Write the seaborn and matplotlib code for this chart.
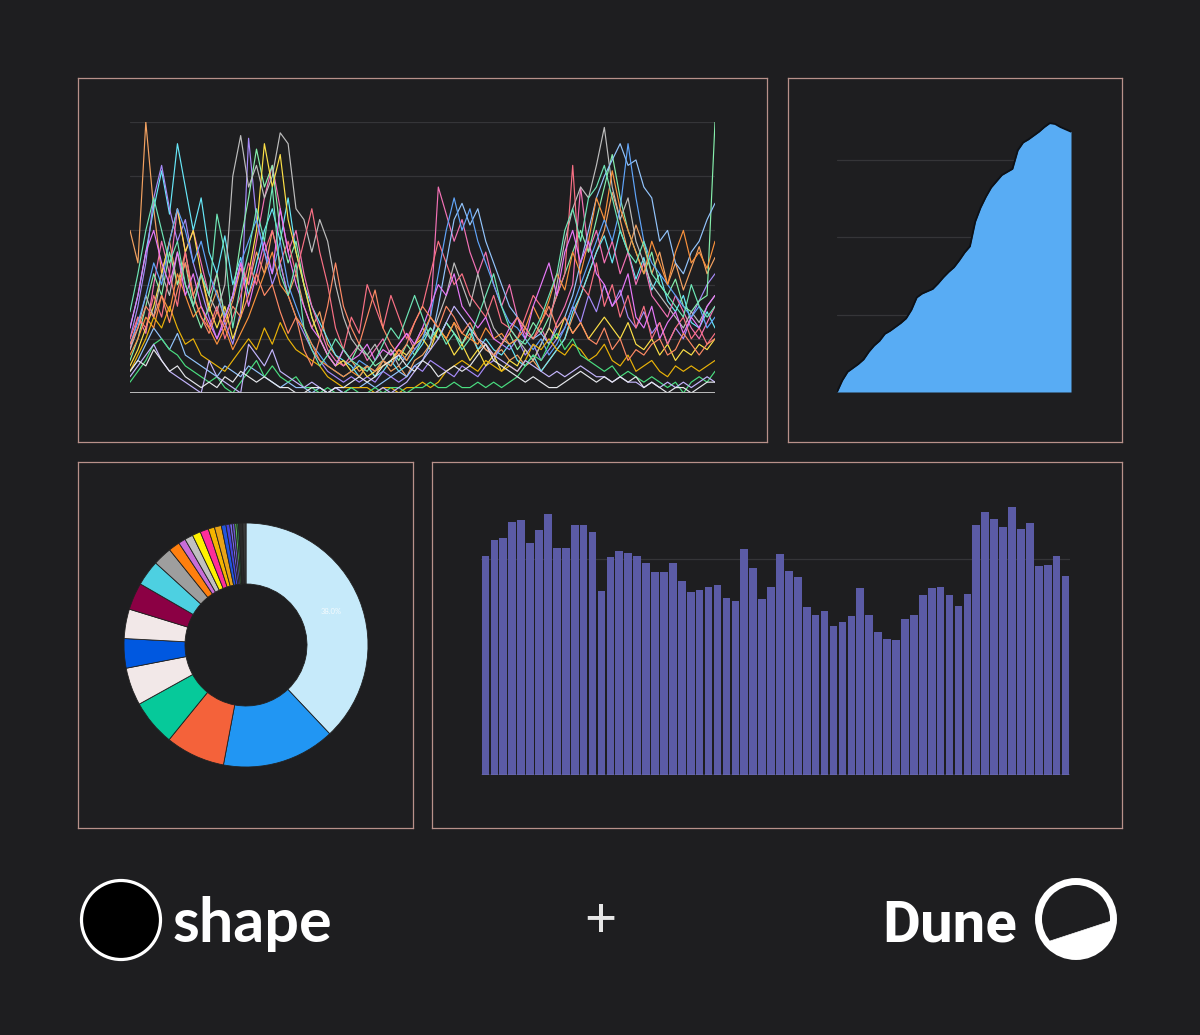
import numpy as np
import pandas as pd
import seaborn as sns
import matplotlib
matplotlib.use("Agg")
from matplotlib import pyplot as plt
from matplotlib.patches import Circle, Polygon

W, H = 1200, 1035
BG = "#1e1e20"
BORDER = "#b8918a"
GRID = "#353538"

# ---------- line chart (top left): one list per series, values 0..5, 75 steps ----------
orange = [3.0, 2.4, 5.0, 3.4, 2.2, 2.8, 2.0, 2.6, 1.8, 2.2, 1.5, 1.9, 1.3, 1.7, 2.3,
          2.0, 2.6, 2.2, 3.0, 2.4, 1.8, 2.2, 1.6, 1.2, 1.5, 0.9, 0.7, 0.5, 0.6, 0.4,
          0.5, 0.3, 0.6, 0.4, 0.5, 0.3, 0.6, 0.7, 0.9, 1.2, 1.0, 1.3, 0.9, 1.1, 0.8,
          0.9, 0.7, 0.8, 0.6, 0.7, 0.5, 0.6, 0.4, 0.6, 0.8, 1.0, 1.4, 1.8, 2.2, 2.6,
          3.0, 3.7, 3.2, 2.6, 3.1, 2.7, 2.2, 2.6, 2.0, 2.4, 1.9, 2.3, 2.7, 2.2, 2.5]
cyan = [1.2, 1.8, 2.6, 3.4, 4.1, 3.3, 4.6, 3.8, 3.0, 3.6, 2.6, 2.2, 2.9, 2.0, 2.5,
        1.8, 2.4, 3.0, 3.4, 2.8, 3.6, 2.6, 2.0, 1.6, 1.3, 1.0, 0.7, 0.6, 0.5, 0.3,
        0.5, 0.3, 0.4, 0.6, 0.4, 0.5, 0.7, 0.9, 1.2, 1.0, 1.3, 1.1, 0.9, 1.2, 0.8,
        1.0, 0.8, 0.7, 0.9, 0.6, 0.5, 0.7, 0.4, 0.6, 0.8, 1.0, 1.5, 1.8, 2.2, 2.6,
        2.9, 2.4, 3.0, 2.6, 2.1, 2.5, 1.9, 2.2, 1.7, 1.5, 1.8, 1.3, 1.2, 1.5, 1.2]
purple = [1.0, 1.6, 2.4, 3.6, 4.2, 3.4, 2.8, 3.2, 2.4, 1.9, 1.4, 1.0, 1.3, 0.9, 1.5,
          4.7, 3.2, 2.6, 2.0, 2.4, 1.8, 1.4, 1.1, 0.8, 0.6, 0.4, 0.3, 0.2, 0.3, 0.2,
          0.3, 0.2, 0.4, 0.3, 0.2, 0.3, 0.5, 0.4, 0.6, 0.5, 0.4, 0.3, 0.5, 0.4, 0.3,
          0.5, 0.6, 0.9, 0.8, 1.0, 0.7, 0.9, 0.6, 0.8, 1.0, 1.2, 1.6, 1.3, 1.8, 1.5,
          2.0, 1.6, 1.9, 1.4, 1.2, 1.5, 1.1, 1.3, 0.9, 1.2, 1.0, 1.4, 1.7, 2.0, 2.2]
pink = [0.8, 1.4, 1.1, 2.0, 2.8, 2.2, 3.4, 2.6, 3.0, 2.4, 1.8, 2.2, 1.4, 1.8, 2.4,
        2.0, 2.8, 3.6, 4.2, 3.4, 2.6, 3.0, 2.2, 1.6, 1.2, 0.8, 0.6, 0.5, 0.7, 0.9,
        0.6, 0.8, 1.0, 0.7, 0.9, 1.1, 0.8, 1.0, 1.4, 3.8, 3.3, 2.8, 3.2, 2.6, 2.2,
        2.6, 2.0, 1.6, 2.0, 1.4, 1.1, 1.0, 1.2, 0.9, 1.3, 1.6, 2.0, 3.8, 2.6, 3.0,
        2.4, 2.8, 2.2, 2.6, 2.0, 2.4, 1.8, 1.6, 1.4, 1.8, 1.5, 1.2, 1.0, 1.3, 1.6]
green = [0.6, 1.0, 1.6, 2.2, 1.8, 2.6, 2.0, 2.4, 1.6, 1.2, 1.6, 2.2, 1.4, 1.8, 2.8,
         3.6, 4.5, 3.8, 4.2, 3.0, 2.4, 2.8, 2.0, 1.4, 1.0, 0.7, 0.5, 0.8, 0.6, 0.9,
         0.7, 0.5, 0.6, 0.8, 0.6, 0.9, 0.7, 1.0, 1.2, 1.0, 1.3, 1.1, 0.9, 1.2, 1.0,
         0.8, 0.7, 0.9, 1.1, 0.8, 1.0, 1.3, 1.1, 1.4, 1.8, 2.2, 2.6, 3.0, 2.6, 3.2,
         3.8, 4.4, 3.6, 3.0, 2.6, 2.2, 2.6, 2.0, 1.8, 2.1, 1.6, 1.5, 1.7, 1.8, 5.0]
yellow = [0.5, 0.8, 1.2, 1.6, 2.2, 2.8, 3.4, 2.6, 3.0, 2.2, 1.6, 1.2, 1.6, 1.0, 1.4,
          2.2, 3.0, 4.6, 3.8, 4.4, 3.2, 2.6, 2.0, 1.4, 1.0, 0.7, 0.5, 0.6, 0.4, 0.5,
          0.3, 0.4, 0.5, 0.6, 0.8, 0.7, 0.9, 1.0, 0.8, 1.2, 1.0, 0.7, 0.9, 0.6, 0.8,
          0.5, 0.7, 0.4, 0.6, 0.5, 0.8, 0.6, 0.9, 1.2, 1.0, 1.4, 1.1, 1.3, 1.0, 1.2,
          1.4, 1.2, 1.0, 1.3, 0.9, 0.8, 1.0, 0.7, 0.9, 0.6, 0.8, 0.7, 0.9, 0.8, 1.0]
gray = [0.8, 1.2, 1.8, 1.4, 2.2, 1.8, 2.6, 2.0, 1.6, 2.2, 1.8, 1.5, 2.0, 4.0, 4.75,
        3.8, 4.2, 3.6, 4.0, 4.8, 4.6, 3.4, 3.2, 2.6, 3.2, 2.8, 2.0, 1.4, 1.0, 0.8,
        0.7, 0.9, 0.6, 0.8, 0.5, 0.7, 0.9, 1.2, 1.0, 1.4, 1.8, 2.4, 2.0, 1.6, 2.2,
        1.6, 1.2, 1.0, 0.9, 1.0, 0.8, 0.6, 0.9, 1.2, 2.0, 2.8, 3.4, 3.8, 3.6, 4.2,
        4.9, 3.8, 3.2, 3.6, 2.8, 2.4, 2.0, 1.8, 1.6, 1.4, 1.2, 1.5, 1.3, 1.6, 1.8]
salmon = [1.0, 1.4, 1.2, 1.8, 1.4, 2.2, 1.6, 2.6, 1.8, 1.4, 1.2, 1.6, 1.0, 1.4, 1.8,
          2.4, 2.0, 2.6, 3.0, 2.4, 2.8, 2.2, 2.8, 3.4, 2.6, 2.0, 1.2, 0.8, 1.4, 1.1,
          2.0, 1.6, 1.2, 1.8, 1.4, 1.0, 1.3, 1.6, 2.2, 2.8, 2.4, 2.0, 2.2, 1.8, 1.6,
          1.4, 1.8, 1.3, 1.2, 1.0, 1.4, 1.8, 1.6, 1.4, 1.8, 2.2, 4.2, 2.0, 1.8, 2.4,
          1.6, 2.0, 1.4, 1.8, 1.2, 1.6, 1.0, 1.3, 0.9, 1.2, 1.4, 1.0, 1.2, 0.9, 1.1]
light_blue = [0.4, 0.6, 0.9, 1.2, 1.0, 0.8, 1.1, 0.7, 0.6, 0.5, 0.4, 0.3, 0.5, 0.4, 0.3,
              0.5, 0.4, 0.3, 0.2, 0.1, 0.2, 0.1, 0.1, 0.0, 0.1, 0.0, 0.1, 0.0, 0.1, 0.1,
              0.2, 0.1, 0.2, 0.3, 0.4, 0.3, 0.5, 0.6, 0.9, 1.6, 2.4, 3.2, 3.5, 3.1, 3.4,
              2.8, 2.4, 2.0, 1.6, 1.4, 1.2, 1.0, 1.1, 0.9, 1.2, 1.4, 1.8, 2.4, 3.0, 3.6,
              4.0, 4.3, 4.6, 4.2, 4.3, 3.8, 3.6, 2.8, 3.0, 2.4, 2.2, 2.6, 2.8, 3.2, 3.5]
blue = [0.9, 1.3, 1.8, 2.4, 2.0, 2.8, 3.4, 3.0, 2.4, 2.8, 2.2, 1.8, 1.4, 1.8, 2.4,
        2.8, 3.2, 2.6, 2.2, 2.8, 2.0, 1.6, 1.2, 0.9, 0.7, 0.5, 0.4, 0.3, 0.4, 0.6,
        0.5, 0.4, 0.6, 0.5, 0.7, 0.6, 0.8, 1.0, 1.4, 2.2, 3.0, 3.6, 3.0, 3.4, 2.8,
        2.4, 2.0, 1.6, 1.3, 1.2, 1.0, 0.8, 1.0, 0.7, 0.9, 1.2, 1.6, 2.0, 2.4, 2.8,
        3.2, 2.8, 3.4, 4.6, 3.6, 2.8, 2.4, 2.2, 2.0, 1.8, 1.6, 1.4, 1.6, 1.2, 1.4]
amber = [0.7, 1.0, 1.4, 1.2, 1.8, 1.5, 2.2, 1.8, 1.4, 1.6, 1.2, 0.9, 1.2, 0.8, 1.1,
         1.4, 1.8, 2.2, 2.6, 2.0, 1.8, 1.4, 1.2, 0.9, 0.6, 0.5, 0.4, 0.3, 0.4, 0.3,
         0.5, 0.4, 0.6, 0.5, 0.8, 0.6, 0.9, 1.1, 1.4, 1.2, 1.0, 1.3, 1.1, 1.0, 0.9,
         1.2, 1.0, 1.1, 0.9, 1.0, 1.2, 1.6, 1.3, 1.7, 2.2, 1.9, 2.6, 2.2, 2.8, 3.6,
         3.2, 4.1, 3.4, 3.0, 2.6, 2.2, 2.8, 2.4, 2.0, 2.6, 3.0, 2.4, 2.6, 2.3, 2.8]
gold = [0.4, 0.7, 1.0, 1.4, 1.2, 1.6, 1.2, 0.9, 1.0, 0.7, 0.6, 0.5, 0.4, 0.6, 0.8,
        1.0, 0.8, 1.2, 0.9, 1.3, 1.0, 0.8, 0.7, 0.6, 0.5, 0.3, 0.2, 0.1, 0.1, 0.1,
        0.1, 0.0, 0.1, 0.1, 0.0, 0.1, 0.1, 0.2, 0.1, 0.2, 0.4, 0.5, 0.6, 0.5, 0.4,
        0.6, 0.5, 0.4, 0.5, 0.4, 0.6, 0.9, 0.8, 1.0, 0.8, 0.7, 0.9, 0.8, 0.6, 0.7,
        0.9, 0.6, 0.5, 0.7, 0.4, 0.5, 0.6, 0.4, 0.3, 0.5, 0.4, 0.5, 0.4, 0.5, 0.6]
lime = [0.2, 0.4, 0.6, 0.9, 1.0, 0.8, 0.7, 0.5, 0.4, 0.3, 0.2, 0.3, 0.1, 0.0, 0.2,
        0.4, 0.6, 0.3, 0.5, 0.3, 0.2, 0.3, 0.1, 0.1, 0.0, 0.1, 0.0, 0.0, 0.1, 0.0,
        0.0, 0.1, 0.0, 0.1, 0.1, 0.0, 0.1, 0.1, 0.2, 0.1, 0.1, 0.2, 0.1, 0.1, 0.2,
        0.1, 0.2, 0.1, 0.2, 0.3, 0.5, 0.7, 0.6, 0.9, 1.1, 0.8, 1.0, 0.7, 0.6, 0.5,
        0.4, 0.5, 0.3, 0.4, 0.3, 0.2, 0.3, 0.2, 0.1, 0.2, 0.0, 0.2, 0.3, 0.2, 0.4]
lavender = [0.3, 0.5, 0.7, 0.9, 0.6, 0.4, 0.3, 0.2, 0.1, 0.0, 0.6, 0.3, 0.2, 0.1, 0.0,
            0.9, 0.7, 0.5, 0.8, 0.4, 0.3, 0.2, 0.1, 0.2, 0.1, 0.0, 0.1, 0.0, 0.0, 0.0,
            0.0, 0.0, 0.1, 0.0, 0.1, 0.2, 0.4, 0.6, 0.8, 1.0, 1.3, 1.6, 1.4, 1.2, 1.0,
            0.9, 0.7, 0.6, 0.5, 0.4, 0.6, 0.5, 0.4, 0.3, 0.4, 0.3, 0.4, 0.5, 0.4, 0.3,
            0.3, 0.2, 0.3, 0.2, 0.2, 0.1, 0.2, 0.1, 0.2, 0.1, 0.2, 0.1, 0.2, 0.3, 0.2]
magenta = [1.2, 1.8, 2.6, 3.0, 2.4, 2.0, 2.6, 1.8, 2.2, 1.6, 1.3, 1.0, 1.4, 1.8, 2.4,
           1.6, 2.2, 2.8, 2.2, 3.4, 2.6, 2.0, 1.6, 1.2, 1.0, 0.7, 0.5, 0.8, 0.6, 0.7,
           0.9, 0.6, 0.8, 0.7, 0.9, 1.1, 0.9, 1.2, 1.6, 2.0, 1.8, 2.2, 1.6, 1.4, 1.2,
           1.4, 1.0, 0.9, 1.2, 1.4, 1.0, 1.6, 2.0, 2.4, 1.8, 2.6, 3.0, 2.4, 2.8, 2.2,
           2.0, 1.6, 1.8, 2.2, 1.4, 1.2, 1.6, 1.0, 1.3, 1.5, 1.1, 1.4, 1.2, 1.6, 1.8]
peach = [0.9, 1.2, 1.6, 1.4, 1.8, 1.3, 1.9, 2.4, 1.8, 1.4, 1.1, 1.5, 1.2, 1.6, 1.4,
         1.8, 2.2, 1.8, 2.0, 1.5, 1.1, 1.4, 0.8, 0.5, 1.0, 1.6, 2.4, 1.6, 1.2, 0.9,
         1.4, 1.9, 1.2, 0.9, 0.7, 0.9, 1.3, 1.6, 1.4, 1.2, 1.6, 1.4, 1.1, 1.3, 1.0,
         0.8, 0.7, 0.9, 1.1, 1.4, 1.2, 1.0, 1.3, 1.6, 1.2, 1.4, 1.1, 1.3, 1.0, 0.9,
         1.2, 0.8, 1.0, 0.6, 0.8, 0.7, 0.9, 1.0, 0.7, 0.8, 1.1, 0.9, 0.7, 0.9, 1.0]
silver = [0.4, 0.6, 0.5, 0.8, 0.6, 0.4, 0.5, 0.3, 0.2, 0.1, 0.2, 0.1, 0.3, 0.2, 0.4,
          0.3, 0.2, 0.3, 0.2, 0.1, 0.1, 0.0, 0.0, 0.1, 0.1, 0.0, 0.1, 0.1, 0.2, 0.3,
          0.2, 0.3, 0.5, 0.6, 0.7, 0.5, 0.4, 0.6, 0.5, 0.3, 0.4, 0.5, 0.4, 0.5, 0.7,
          0.9, 0.6, 0.5, 0.4, 0.3, 0.2, 0.3, 0.2, 0.1, 0.1, 0.2, 0.3, 0.4, 0.3, 0.2,
          0.3, 0.2, 0.3, 0.2, 0.3, 0.1, 0.2, 0.1, 0.0, 0.1, 0.1, 0.0, 0.1, 0.2, 0.2]
mint = [1.5, 2.2, 3.0, 3.6, 3.0, 2.4, 2.8, 2.0, 1.6, 2.2, 1.8, 3.3, 2.6, 1.2, 2.0,
        2.6, 3.4, 2.8, 3.8, 2.2, 1.8, 2.4, 1.2, 0.8, 0.5, 0.7, 1.0, 0.8, 0.6, 0.5,
        0.4, 0.6, 0.9, 1.2, 1.0, 1.4, 1.8, 1.4, 1.0, 1.2, 0.9, 1.1, 0.8, 1.0, 1.4,
        1.8, 2.2, 1.6, 1.2, 1.0, 0.9, 1.1, 1.4, 1.8, 2.2, 3.0, 3.4, 2.8, 3.6, 3.8,
        4.2, 3.6, 3.0, 2.6, 2.4, 2.8, 2.2, 2.0, 1.8, 1.6, 1.4, 2.0, 1.6, 1.4, 1.6]

line_names = ["orange", "cyan", "purple", "pink", "green", "yellow", "gray", "salmon", "light_blue",
              "blue", "amber", "gold", "lime", "lavender", "magenta", "peach", "silver", "mint"]
line_values = [orange, cyan, purple, pink, green, yellow, gray, salmon, light_blue,
               blue, amber, gold, lime, lavender, magenta, peach, silver, mint]
line_colors = ["#f4a261", "#67e8f9", "#a78bfa", "#f472b6", "#86efac", "#fde047", "#bdbdbd", "#fb7185", "#93c5fd",
               "#60a5fa", "#fb923c", "#eab308", "#4ade80", "#c4b5fd", "#e879f9", "#ff8a65", "#e5e7eb", "#6ee7b7"]

# ---------- area chart (top right) ----------
area_values = [0.00, 0.15, 0.26, 0.31, 0.36, 0.42, 0.52, 0.60, 0.66, 0.75, 0.79, 0.84, 0.89, 0.95, 1.06,
               1.22, 1.27, 1.30, 1.33, 1.40, 1.48, 1.55, 1.61, 1.70, 1.80, 1.88, 2.20, 2.38, 2.52, 2.64,
               2.72, 2.80, 2.84, 2.88, 3.12, 3.22, 3.26, 3.31, 3.36, 3.42, 3.47, 3.46, 3.42, 3.39, 3.36]

# ---------- bar chart (bottom right) ----------
bar_values = [1.015, 1.090, 1.097, 1.173, 1.179, 1.076, 1.137, 1.207, 1.052, 1.051, 1.160, 1.157, 1.125,
              0.852, 1.008, 1.039, 1.028, 1.014, 0.983, 0.940, 0.940, 0.980, 0.897, 0.846, 0.858, 0.872,
              0.880, 0.819, 0.807, 1.048, 0.957, 0.815, 0.870, 1.023, 0.943, 0.917, 0.779, 0.741, 0.761,
              0.688, 0.710, 0.738, 0.864, 0.742, 0.662, 0.628, 0.627, 0.722, 0.742, 0.836, 0.867, 0.872,
              0.833, 0.784, 0.838, 1.159, 1.216, 1.184, 1.150, 1.239, 1.140, 1.167, 0.966, 0.971, 1.014, 0.923]

# ---------- donut (bottom left) ----------
pie_shares = [38.0, 15.0, 7.9, 6.1, 5.0, 3.9, 3.9, 3.6, 3.4, 2.5, 1.5, 0.94, 1.11, 1.11, 1.11, 0.83,
              0.92, 0.61, 0.5, 0.33, 0.33, 0.28, 0.22, 0.56, 0.42]
pie_colors = ["#c6eafa", "#2196f3", "#f4623a", "#06c99a", "#f2e8e8", "#0058e0", "#f2e8e8", "#8b0044",
              "#4dd0e1", "#9e9e9e", "#ff7f0e", "#c86dd7", "#c0c0c0", "#fff200", "#ff2d9a", "#f5b400",
              "#e8a317", "#2255dd", "#4444dd", "#7b68ee", "#6a5acd", "#5cb85c", "#2e8b57", "#2a2a2a", "#3a3a3a"]
pie_label = "38.0%"

sns.set_theme(style="dark", rc={"axes.facecolor": BG, "figure.facecolor": BG})
plt.rcParams["font.family"] = ["Lato", "DejaVu Sans"]


def px_rect(x0, y0, x1, y1):
    return [x0 / W, 1 - y1 / H, (x1 - x0) / W, (y1 - y0) / H]


def bare(ax):
    ax.set_xticks([])
    ax.set_yticks([])
    ax.set_xlabel("")
    ax.set_ylabel("")
    for s in ax.spines.values():
        s.set_visible(False)


fig = plt.figure(figsize=(W / 100, H / 100), dpi=100)
fig.patch.set_facecolor(BG)

# panel frames
for box in [(78, 78, 767, 442), (788, 78, 1122, 442), (78, 462, 413, 828), (432, 462, 1122, 828)]:
    pa = fig.add_axes(px_rect(*box))
    pa.set_facecolor(BG)
    pa.set_xticks([])
    pa.set_yticks([])
    for s in pa.spines.values():
        s.set_color(BORDER)
        s.set_linewidth(0.9)

# multi-line chart
rows = []
for name, vals in zip(line_names, line_values):
    for i, v in enumerate(vals):
        rows.append((name, i, v))
df_lines = pd.DataFrame(rows, columns=["series", "t", "v"])

ax = fig.add_axes(px_rect(130, 122, 715, 393))
ax.set_facecolor("none")
for g in [1, 2, 3, 4, 5]:
    ax.axhline(g, color=GRID, lw=0.9, zorder=0)
sns.lineplot(data=df_lines, x="t", y="v", hue="series", palette=line_colors, linewidth=0.85,
             legend=False, ax=ax, zorder=2)
ax.axhline(0, color="#c8c8c8", lw=1.3, zorder=3)
ax.set_xlim(0, len(orange) - 1)
ax.set_ylim(0, 5.0)
bare(ax)

# area chart
ax = fig.add_axes(px_rect(837, 110, 1071, 392))
ax.set_facecolor("none")
for g in [1, 2, 3]:
    ax.axhline(g, color=GRID, lw=0.9, zorder=0)
xs = np.arange(len(area_values))
ax.fill_between(xs, area_values, color="#58acf4", lw=0, zorder=2)
sns.lineplot(x=xs, y=area_values, color="#0d1117", linewidth=1.3, ax=ax, zorder=3)
ax.set_xlim(0, len(area_values) - 1)
ax.set_ylim(0, 3.64)
bare(ax)

# bar chart
ax = fig.add_axes(px_rect(481, 490, 1070, 775))
ax.set_facecolor("none")
ax.axhline(1.0, color=GRID, lw=0.9, zorder=0)
sns.barplot(x=list(range(len(bar_values))), y=bar_values, color="#5b5ba6", saturation=1,
            width=0.86, edgecolor="none", ax=ax, zorder=2)
ax.axhline(0, color="#8a8ac0", lw=1.0, zorder=3)
ax.set_xlim(-0.5, len(bar_values) - 0.5)
ax.set_ylim(0, 1.32)
bare(ax)

# donut
ax = fig.add_axes(px_rect(124, 523, 368, 767))
ax.pie(pie_shares, colors=pie_colors, startangle=90, counterclock=False,
       wedgeprops=dict(width=0.5, edgecolor="#222222", linewidth=0.6),
       autopct=lambda p: pie_label if p > 30 else "", pctdistance=0.75,
       textprops=dict(color="white", fontsize=5.5, alpha=0.8))
ax.set_xlim(-1.0, 1.0)
ax.set_ylim(-1.0, 1.0)
ax.set_aspect("equal")
ax.set_facecolor("none")

# logos row
ov = fig.add_axes([0, 0, 1, 1])
ov.set_xlim(0, W)
ov.set_ylim(H, 0)
ov.axis("off")
ov.patch.set_alpha(0)
ov.add_patch(Circle((121, 920), 39.5, facecolor="black", edgecolor="white", lw=2.3))
ov.text(173, 942, "shape", color="white", fontsize=44, fontweight="bold", ha="left", va="baseline")
ov.text(600, 922, "+", color="#e6e6e6", fontsize=40, fontweight="normal", ha="center", va="center")
ov.text(882, 941, "Dune", color="white", fontsize=42, fontweight="bold", ha="left", va="baseline",
        family=["Roboto", "DejaVu Sans"])
ov.add_patch(Circle((1076, 919), 37.5, fill=False, edgecolor="white", lw=5.0))
a = np.radians(np.linspace(3.4, 140.3, 40))
seg = np.column_stack([1076 + 35 * np.cos(a), 919 + 35 * np.sin(a)])
ov.add_patch(Polygon(seg, closed=True, facecolor="white", edgecolor="white", lw=0.5))

fig.savefig("out.png", dpi=100, facecolor=BG)
